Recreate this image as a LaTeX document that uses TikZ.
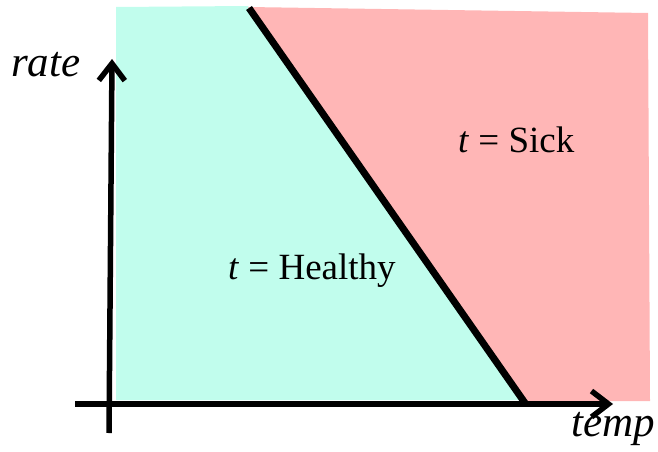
\documentclass[tikz,border=0pt]{standalone}
\usepackage{fontspec}
\setmainfont{Liberation Serif}
\usepackage{tikz}
\usetikzlibrary{arrows.meta,positioning}
\definecolor{healthygreen}{RGB}{193,253,237}
\definecolor{sickpink}{RGB}{255,182,182}

\begin{document}
\begin{tikzpicture}[x=1pt, y=-1pt,
  axis/.style={line width=5.5pt, -{Straight Barb[length=17pt, width=26pt, line width=5.5pt]}},
  regionlabel/.style={anchor=base west, inner sep=0pt, font=\fontsize{37}{40}\selectfont},
  axislabel/.style={anchor=base west, inner sep=0pt, font=\fontsize{43}{48}\selectfont\itshape}]
\useasboundingbox (0,0) rectangle (658,452);
% regions
\fill[healthygreen] (116,7) -- (248,6) -- (525,400) -- (116,400) -- cycle;
\fill[sickpink] (248,7) -- (648,13) -- (650,401) -- (525,401) -- cycle;
% boundary
\coordinate (btop) at (249,8);
\coordinate (bbot) at (525,403);
\draw[line width=7pt] (btop) -- (bbot);
% axes
\coordinate (ystart) at (109,433);
\coordinate (yend) at (112,59);
\coordinate (xstart) at (75,404);
\coordinate (xend) at (613,404);
\draw[axis] (ystart) -- (yend);
\draw[axis] (xstart) -- (xend);
\node[axislabel] (ratelab) at (11,77) {rate};
\node[axislabel] (templab) at (571,436) {temp};
\node[regionlabel] (healthylab) at (228,279) {\textit{t} = Healthy};
\node[regionlabel] (sicklab) at (458,152) {\textit{t} = Sick};
\end{tikzpicture}
\end{document}
